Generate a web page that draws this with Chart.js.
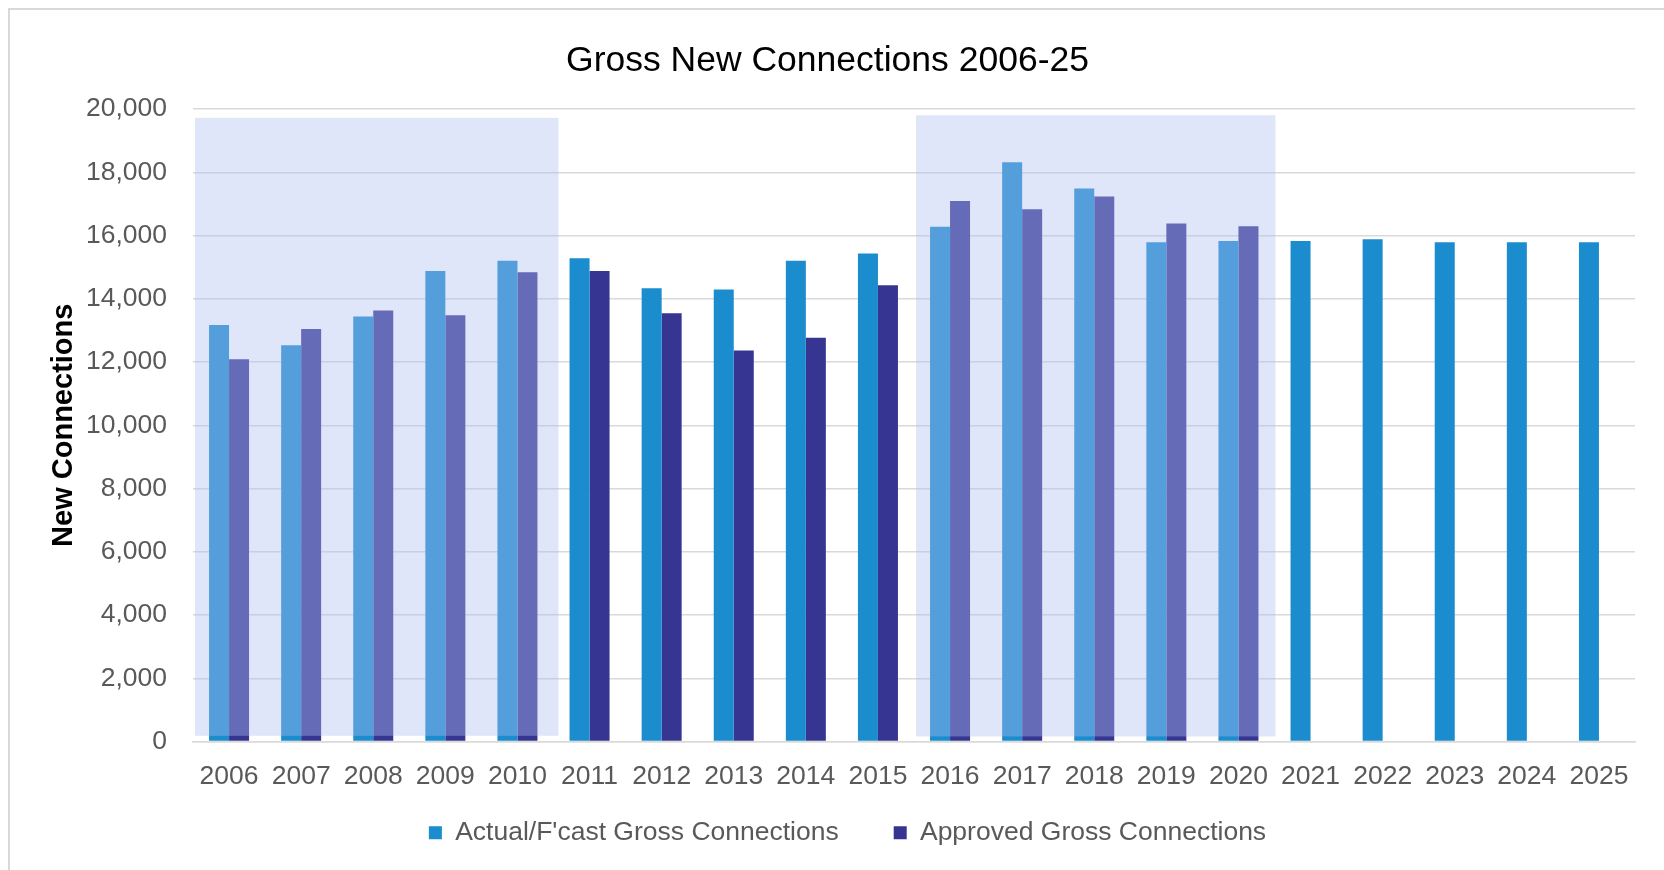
<!DOCTYPE html>
<html>
<head>
<meta charset="utf-8">
<title>Gross New Connections 2006-25</title>
<script src="https://cdn.jsdelivr.net/npm/chart.js@4.4.1/dist/chart.umd.min.js"></script>
<style>
  html, body { margin: 0; padding: 0; background: #fff; overflow: hidden; }
  #box { width: 1664px; height: 870px; }
</style>
</head>
<body>
<div id="box"><canvas id="myChart" width="1664" height="870"></canvas></div>
<script>
// values
const years = ['2006', '2007', '2008', '2009', '2010', '2011', '2012', '2013', '2014', '2015',
               '2016', '2017', '2018', '2019', '2020', '2021', '2022', '2023', '2024', '2025'];
const actualForecast = [13170, 12530, 13440, 14880, 15200, 15280, 14330, 14290, 15200, 15430,
                        16280, 18320, 17490, 15790, 15830, 15830, 15880, 15790, 15790, 15790];
const approved = [12090, 13040, 13630, 13480, 14840, 14880, 13540, 12360, 12770, 14430,
                  17090, 16830, 17230, 16380, 16290, null, null, null, null, null];
const yMin = 0;
const yMax = 20000;
const yStep = 2000;

// the two highlighted periods
const shadedFrom = ['2006', '2016'];
const shadedTo = ['2010', '2020'];
const shadedTop = [19720, 19800];
const shadedBottom = [180, 160];

const font = 'Liberation Sans, Arial, sans-serif';

const frame = {
  id: 'frame',
  beforeDraw(chart) {
    const ctx = chart.ctx;
    ctx.save();
    ctx.fillStyle = '#fff';
    ctx.fillRect(0, 0, chart.width, chart.height);
    ctx.strokeStyle = '#d9d9d9';
    ctx.lineWidth = 2;
    ctx.strokeRect(9, 9, chart.width + 20, chart.height + 20);
    ctx.restore();
  },
  afterLayout(chart) {
    // move the legend to where the original sits
    const lg = chart.legend;
    lg.left += 20;
    lg.right += 20;
    lg.top -= 27;
    lg.bottom -= 27;
  }
};

const shading = {
  id: 'shading',
  afterDatasetsDraw(chart) {
    const {ctx, scales: {x, y}} = chart;
    const half = (x.getPixelForValue(1) - x.getPixelForValue(0)) / 2;
    ctx.save();
    ctx.fillStyle = 'rgba(176, 191, 242, 0.39)';
    shadedFrom.forEach((from, i) => {
      const left = x.getPixelForValue(years.indexOf(from)) - half + 2;
      const right = x.getPixelForValue(years.indexOf(shadedTo[i])) + half + (i === 0 ? 5 : 1);
      const top = y.getPixelForValue(shadedTop[i]);
      const bottom = y.getPixelForValue(shadedBottom[i]);
      ctx.fillRect(left, top, right - left, bottom - top);
    });
    ctx.restore();
  }
};

const ctx = document.getElementById('myChart').getContext('2d');
const myChart = new Chart(ctx, {
  type: 'bar',
  data: {
    labels: years,
    datasets: [{
      label: "Actual/F'cast Gross Connections",
      data: actualForecast,
      backgroundColor: '#1b8ccd',
      borderWidth: 0,
      categoryPercentage: 0.555,
      barPercentage: 1
    }, {
      label: 'Approved Gross Connections',
      data: approved,
      backgroundColor: '#363692',
      borderWidth: 0,
      categoryPercentage: 0.555,
      barPercentage: 1
    }]
  },
  options: {
    responsive: false,
    animation: false,
    layout: {
      padding: {left: 20, right: 29, top: 0, bottom: -13}
    },
    scales: {
      x: {
        grid: {display: false, drawTicks: false},
        border: {display: true, color: '#d9d9d9', width: 1.5},
        ticks: {
          color: '#595959',
          padding: 19,
          maxRotation: 0,
          autoSkip: false,
          font: {family: font, size: 26.5}
        },
        afterFit(scale) { scale.height = 50; }
      },
      y: {
        min: yMin,
        max: yMax,
        grid: {color: '#d9d9d9', lineWidth: 1.5, drawTicks: false},
        border: {display: false},
        ticks: {
          stepSize: yStep,
          color: '#595959',
          padding: 26,
          font: {family: font, size: 26.5},
          callback: value => value.toLocaleString('en-US')
        },
        title: {
          display: true,
          text: 'New Connections',
          color: '#000',
          padding: {top: 27, bottom: 0},
          font: {family: font, size: 29, weight: 'bold'}
        },
        afterFit(scale) { scale.width = 173; }
      }
    },
    plugins: {
      legend: {
        position: 'bottom',
        labels: {
          color: '#595959',
          boxWidth: 13,
          boxHeight: 13,
          padding: 55,
          font: {family: font, size: 26.5}
        }
      },
      title: {
        display: true,
        text: 'Gross New Connections 2006-25',
        color: '#000',
        padding: {top: 39.7, bottom: 26.7},
        font: {family: font, size: 35.5, weight: 'normal'}
      },
      tooltip: {enabled: false}
    }
  },
  plugins: [frame, shading]
});
</script>
</body>
</html>
